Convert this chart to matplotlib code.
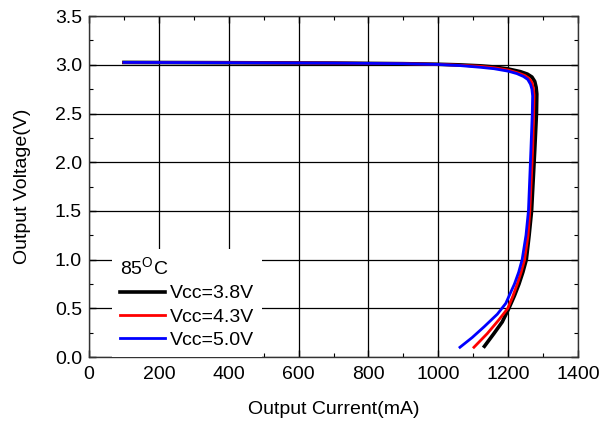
import numpy as np
import matplotlib
matplotlib.use("Agg")
import matplotlib.pyplot as plt
from matplotlib.ticker import MultipleLocator, FormatStrFormatter

plt.rcParams['font.family'] = ['Liberation Sans', 'DejaVu Sans']
plt.rcParams['mathtext.fontset'] = 'custom'
plt.rcParams['mathtext.rm'] = 'Liberation Sans'

# output current (mA) vs output voltage (V)
cur38 = [100, 400, 700, 900, 1000, 1060, 1120, 1160, 1200, 1235, 1255, 1268, 1276,
         1280, 1282, 1281, 1276, 1267, 1260, 1252, 1242, 1231, 1218, 1202, 1183,
         1159, 1132]
volt38 = [3.025, 3.022, 3.018, 3.012, 3.006, 3.0, 2.99, 2.978, 2.958, 2.93, 2.905,
          2.875, 2.83, 2.77, 2.70, 2.50, 2.12, 1.50, 1.25, 1.00, 0.87, 0.75, 0.63,
          0.50, 0.36, 0.24, 0.11]

cur43 = [100, 400, 700, 900, 1000, 1060, 1120, 1160, 1200, 1230, 1248, 1260, 1268,
         1272, 1274, 1273, 1270, 1262, 1257, 1247, 1237, 1226, 1213, 1199, 1173,
         1140, 1102]
volt43 = [3.025, 3.022, 3.018, 3.012, 3.005, 2.996, 2.985, 2.97, 2.947, 2.915, 2.89,
          2.86, 2.82, 2.76, 2.69, 2.50, 2.12, 1.50, 1.25, 1.00, 0.87, 0.75, 0.62,
          0.50, 0.38, 0.24, 0.10]

cur50 = [100, 400, 700, 900, 1000, 1060, 1120, 1160, 1200, 1225, 1244, 1256, 1264,
         1268, 1270, 1269, 1265, 1258, 1251, 1240, 1230, 1218, 1193, 1169, 1131,
         1097, 1062]
volt50 = [3.025, 3.022, 3.018, 3.012, 3.004, 2.993, 2.975, 2.96, 2.935, 2.91, 2.88,
          2.85, 2.80, 2.75, 2.68, 2.50, 2.12, 1.50, 1.25, 1.00, 0.87, 0.75, 0.55,
          0.44, 0.31, 0.20, 0.10]

labels = ["Vcc=3.8V", "Vcc=4.3V", "Vcc=5.0V"]

fig = plt.figure(figsize=(6.04, 4.25), dpi=100)
ax = fig.add_axes([0.1474, 0.16, 0.8096, 0.802])

ax.plot(cur38, volt38, color="black", lw=2.6, label=labels[0], solid_joinstyle='round')
ax.plot(cur43, volt43, color="#ff0000", lw=2.0, label=labels[1], solid_joinstyle='round')
ax.plot(cur50, volt50, color="#0000ff", lw=2.0, label=labels[2], solid_joinstyle='round')

ax.set_xlim(0, 1400)
ax.set_ylim(0, 3.5)
ax.xaxis.set_major_locator(MultipleLocator(200))
ax.xaxis.set_minor_locator(MultipleLocator(100))
ax.yaxis.set_major_locator(MultipleLocator(0.5))
ax.yaxis.set_minor_locator(MultipleLocator(0.25))
ax.yaxis.set_major_formatter(FormatStrFormatter('%.1f'))
ax.tick_params(which='both', direction='in', top=True, right=True, labelsize=14)
ax.tick_params(which='major', length=5, width=1)
ax.tick_params(which='minor', length=3, width=0.8)
ax.tick_params(axis='x', which='major', pad=6.5)
ax.tick_params(axis='y', which='major', pad=5)
ax.grid(True, which='major', color='black', lw=0.9)
for s in ax.spines.values():
    s.set_linewidth(1.0)
    s.set_color('#333333')

ax.set_xlabel("Output Current(mA)", fontsize=14, labelpad=13)
ax.set_ylabel("Output Voltage(V)", fontsize=14, labelpad=17)

leg = ax.legend(title="85$^{\\mathrm{O}}$C", loc='lower left', bbox_to_anchor=(0.047, 0.0),
                fontsize=14, title_fontsize=14, frameon=True, framealpha=1,
                edgecolor='none', fancybox=False, handlelength=2.3, handletextpad=0.3,
                labelspacing=0.3, borderpad=0.4, borderaxespad=0.0, alignment='left')
leg.set_zorder(10)

fig.savefig("out.png", dpi=100)
